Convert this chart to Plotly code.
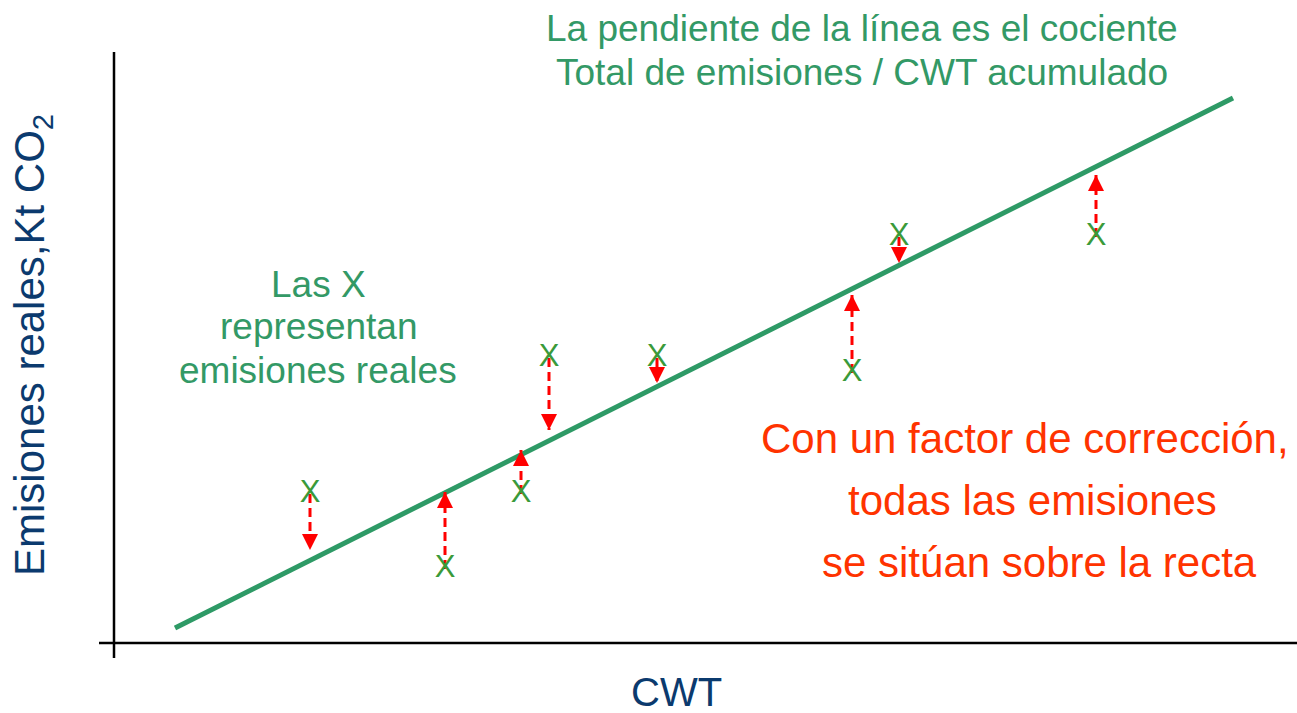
import plotly.graph_objects as go

# ---- data (CWT units vs emissions, kt CO2) ----
cwt = [19.6, 33.1, 40.7, 43.5, 54.3, 73.8, 78.5, 98.2]
emis_real = [14.9, 7.4, 14.9, 28.5, 28.5, 27.0, 40.6, 40.6]
emis_corr = [9.3, 15.1, 19.3, 21.3, 26.0, 34.8, 38.0, 46.8]
line_cwt = [6.1, 111.9]
line_emis = [1.5, 54.5]

W, H = 1297, 713
X_RANGE = [-11.4, 118.3]
Y_RANGE = [-7.0, 64.3]

GREEN_LINE = "#2e9a66"
GREEN_TXT = "#339966"
GREEN_X = "#3a9a3a"
RED = "#ff0000"
RED_TXT = "#ff3300"
NAVY = "#0b3a6e"
FONT = "Liberation Sans, Arial, sans-serif"

fig = go.Figure()

# regression line
fig.add_trace(go.Scatter(x=line_cwt, y=line_emis, mode="lines",
                         line=dict(color=GREEN_LINE, width=5), hoverinfo="skip"))

# dashed arrows from real emissions to line
dx, dy = [], []
for c, r, t in zip(cwt, emis_real, emis_corr):
    dx += [c, c, None]
    dy += [r, t, None]
fig.add_trace(go.Scatter(x=dx, y=dy, mode="lines",
                         line=dict(color=RED, width=3, dash="9px,5px"), hoverinfo="skip"))
symbols = ["arrow-up" if t > r else "arrow-down" for r, t in zip(emis_real, emis_corr)]
fig.add_trace(go.Scatter(x=cwt, y=emis_corr, mode="markers",
                         marker=dict(symbol=symbols, size=16, color=RED, line=dict(width=0)),
                         hoverinfo="skip"))

# X markers (real emissions)
fig.add_trace(go.Scatter(x=cwt, y=emis_real, mode="text", text=["X"] * len(cwt),
                         textposition="middle center",
                         textfont=dict(family=FONT, size=31, color=GREEN_X), hoverinfo="skip"))

# axes lines
fig.add_shape(type="line", x0=0, x1=0, y0=-1.5, y1=59.1, line=dict(color="black", width=2.5))
fig.add_shape(type="line", x0=-1.5, x1=X_RANGE[1], y0=0, y1=0, line=dict(color="black", width=2.5))

def ann(text, px, py, size, color, angle=0):
    fig.add_annotation(text=text, x=px / W, y=1 - py / H, xref="paper", yref="paper",
                       showarrow=False, xanchor="center", yanchor="middle", textangle=angle,
                       font=dict(family=FONT, size=size, color=color))

ann("La pendiente de la línea es el cociente", 862, 28, 37, GREEN_TXT)
ann("Total de emisiones / CWT acumulado", 862, 72, 37, GREEN_TXT)
ann("Las X", 318, 284, 37, GREEN_TXT)
ann("representan", 318, 327, 37, GREEN_TXT)
ann("emisiones reales", 318, 371, 37, GREEN_TXT)
ann("Con un factor de corrección,", 1025, 438, 42, RED_TXT)
ann("todas las emisiones", 1032, 500, 42, RED_TXT)
ann("se sitúan sobre la recta", 1039, 562, 42, RED_TXT)
ann("CWT", 676, 692, 40, NAVY)
ann("Emisiones reales,Kt CO<sub>2</sub>", 32, 345, 42, NAVY, angle=-90)

fig.update_layout(width=W, height=H, margin=dict(l=0, r=0, t=0, b=0),
                  paper_bgcolor="white", plot_bgcolor="white", showlegend=False,
                  xaxis=dict(range=X_RANGE, visible=False, fixedrange=True),
                  yaxis=dict(range=Y_RANGE, visible=False, fixedrange=True))

fig.write_html("out.html", config={"displayModeBar": False},
               post_script="document.body.style.margin='0';document.body.style.overflow='hidden';")
